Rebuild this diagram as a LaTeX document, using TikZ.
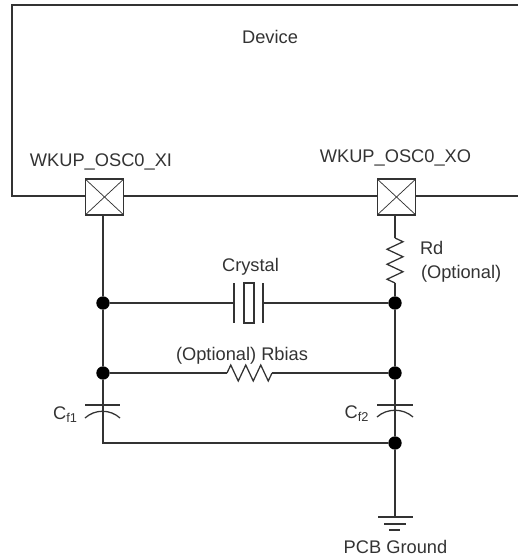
\documentclass[tikz,border=0pt]{standalone}
\usepackage{fontspec}
\setmainfont{Liberation Sans}
\usetikzlibrary{decorations.pathmorphing}

\begin{document}
\begin{tikzpicture}[x=0.75pt, y=-0.75pt, line width=0.95pt, draw=black!80,
    every node/.style = {inner sep=0pt, outer sep=0pt, font=\fontsize{13.7pt}{16pt}\selectfont,
                         text=black!80},
          pad/.style = {draw, fill=white, minimum width=29pt, minimum height=27pt, line width=0.8pt,
                        path picture={\draw[line width=0.55pt]
                          (path picture bounding box.south west) -- (path picture bounding box.north east)
                          (path picture bounding box.north west) -- (path picture bounding box.south east);}},
          dot/.style = {circle, fill=black, minimum size=10pt},
          device/.style = {line width=1.9pt},
          plate/.style = {line width=0.95pt},
          res/.style = {decorate, decoration={zigzag, segment length=11.25pt, amplitude=6pt}},]%
  \useasboundingbox (0,0) rectangle (518,559);
  % device
  \draw [device] (518,5) -- (12,5) -- (12,196) -- (518,196);
  \node (dev) at (270,37) {Device};
  \node (padxi) [pad] at (104.5,197) {};
  \node (padxo) [pad] at (396.5,197) {};
  \node (lblxi) at (101,162) {WKUP\_OSC0\_XI};
  \node (lblxo) at (395.5,158) {WKUP\_OSC0\_XO};
  % junctions
  \node (a1) [dot] at (103,303) {};
  \node (a2) [dot] at (395,303) {};
  \node (b1) [dot] at (103,373) {};
  \node (b2) [dot] at (395,373) {};
  \node (c2) [dot] at (395,443) {};
  % left and right rails
  \coordinate (c1) at (103,443);
  \draw (padxi.south -| a1) -- (a1) -- (b1) -- (c1) -- (c2);
  \coordinate (rdt) at (395,238);
  \coordinate (rdb) at (395,283);
  \draw (padxo.south -| a2) -- (rdt);
  \draw (rdb) -- (a2) -- (b2) -- (c2);
  \draw [res] (rdt) -- (rdb);
  \node (rd) [anchor=west] at (420,248) {Rd};
  \node (rdopt) [anchor=west] at (421,274) {(Optional)};
  % crystal
  \coordinate (xl) at (234,303);
  \coordinate (xr) at (263,303);
  \draw (a1) -- (xl) (xr) -- (a2);
  \draw [plate] (234,283) -- (234,323);
  \draw [plate] (263,283) -- (263,323);
  \draw [plate] (244,283) rectangle (254,323);
  \node (xtal) at (250.5,267) {Crystal};
  % rbias
  \coordinate (rbl) at (227,373);
  \coordinate (rbr) at (272,373);
  \draw (b1) -- (rbl) (rbr) -- (b2);
  \draw [res] (rbl) -- (rbr);
  \node (rbias) at (242,356) {(Optional) Rbias};
  % caps
  \draw [plate] (85,405) -- (120,405);
  \draw [plate] (85,418) .. controls (95,409) and (110,409) .. (120,418);
  \draw [plate] (377,405) -- (413,405);
  \draw [plate] (377,417) .. controls (387,408) and (403,408) .. (413,417);
  \node (cf1) at (65.5,415) {C\textsubscript{f1}};
  \node (cf2) at (357,414) {C\textsubscript{f2}};
  % ground
  \coordinate (gnd) at (395,517);
  \draw (c2) -- (gnd);
  \draw [plate] (378,517) -- (413,517);
  \draw [plate] (384,524) -- (406,524);
  \draw [plate] (389,530) -- (400,530);
  \node (pcb) at (395.5,547) {PCB Ground};
\end{tikzpicture}
\end{document}
